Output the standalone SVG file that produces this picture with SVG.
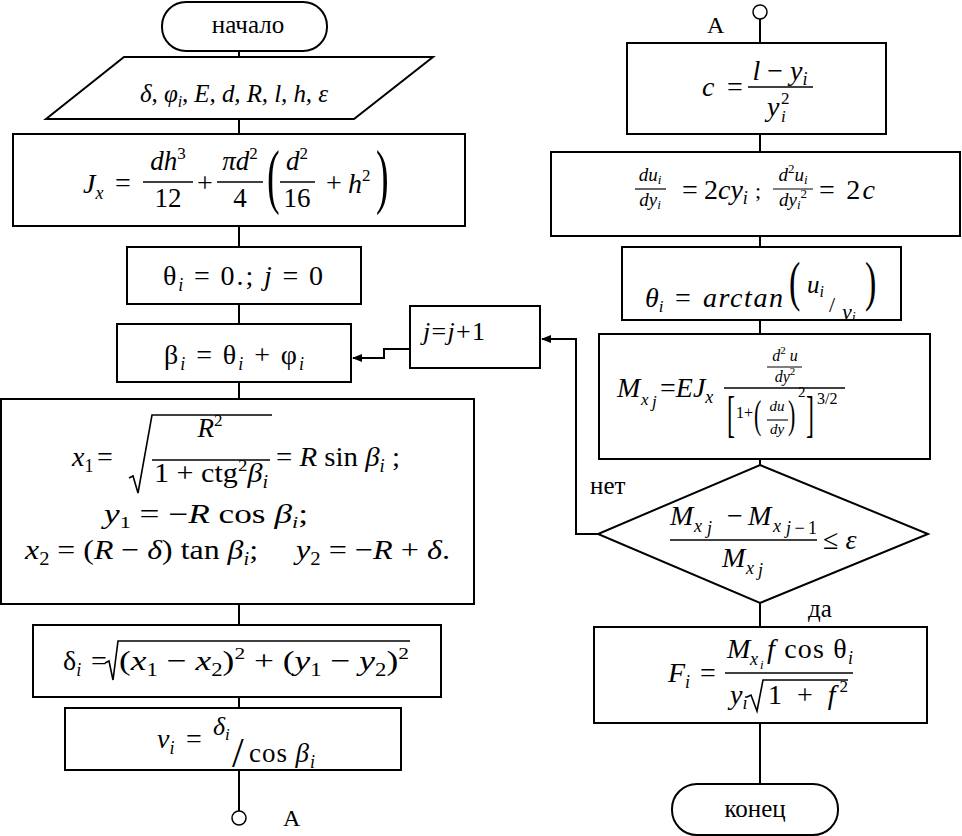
<svg xmlns="http://www.w3.org/2000/svg" width="962" height="836" viewBox="0 0 962 836" font-family="'Liberation Serif', serif">
<style>
text{font-family:'Liberation Serif','Times New Roman',serif;fill:#000}
.i{font-style:italic}
.n{font-style:normal}
.b{fill:#fff;stroke:#000;stroke-width:2}
.c{fill:none;stroke:#000;stroke-width:2}
.fl{stroke:#000;stroke-width:1.6}
.sq{fill:none;stroke:#000;stroke-width:1.6}
</style>
<defs>
<marker id="ar" markerWidth="10" markerHeight="8" refX="9" refY="4" orient="auto" markerUnits="userSpaceOnUse">
<path d="M0,0 L10,4 L0,8 z" fill="#000"/>
</marker>
<clipPath id="clipT"><rect x="623" y="248" width="277" height="71"/></clipPath>
</defs>
<rect width="962" height="836" fill="#fff"/>

<g id="connectors">
<path class="c" d="M239,51 V57 M239,119 V134 M239,226 V247 M239,304 V324 M239,382 V399 M239,604 V625 M239,697 V708 M239,770 V811"/>
<path class="c" d="M760,19 V43 M760,134 V152 M760,236 V247 M760,320 V334 M760,459 V465 M760,603 V627 M760,723 V784"/>
<path class="c" d="M598,534 H576 V339 H542" marker-end="url(#ar)"/>
<path class="c" d="M410,349 H384 V358 H353" marker-end="url(#ar)" stroke-width="2.5"/>
<text x="590" y="494" font-size="25">нет</text>
<text x="808" y="617" font-size="25">да</text>
</g>

<g id="start">
<rect class="b" x="162" y="2" width="165" height="49" rx="24"/>
<text x="248" y="33" font-size="25" text-anchor="middle">начало</text>
</g>

<g id="input">
<polygon class="b" points="124,57 433,57 354,119 46,119"/>
<text x="140" y="102" font-size="25" class="i" textLength="188">δ, φ<tspan font-size="16" dy="5">i</tspan><tspan dy="-5">, E, d, R, l, h, ε</tspan></text>
</g>

<g id="jx">
<rect class="b" x="13" y="134" width="452" height="92"/>
<text x="83" y="193" class="i" font-size="28">J<tspan font-size="18" dy="6">x</tspan></text>
<text x="123" y="192" text-anchor="middle" font-size="28">=</text>
<text x="168" y="170" text-anchor="middle" class="i" font-size="27">dh<tspan class="n" font-size="17" dy="-11">3</tspan></text>
<line class="fl" x1="143" y1="182" x2="193" y2="182"/>
<text x="168" y="207" text-anchor="middle" font-size="27">12</text>
<text x="205" y="192" text-anchor="middle" font-size="28">+</text>
<text x="240" y="170" text-anchor="middle" class="i" font-size="27">πd<tspan class="n" font-size="17" dy="-11">2</tspan></text>
<line class="fl" x1="217" y1="182" x2="263" y2="182"/>
<text x="240" y="207" text-anchor="middle" font-size="27">4</text>
<text transform="translate(267,200) scale(1,1.9)" font-size="38">(</text>
<text x="297" y="170" text-anchor="middle" class="i" font-size="27">d<tspan class="n" font-size="17" dy="-11">2</tspan></text>
<line class="fl" x1="280" y1="182" x2="315" y2="182"/>
<text x="297" y="207" text-anchor="middle" font-size="27">16</text>
<text x="334" y="192" text-anchor="middle" font-size="28">+</text>
<text x="348" y="193" class="i" font-size="28">h<tspan class="n" font-size="17" dy="-12">2</tspan></text>
<text transform="translate(376,200) scale(1,1.9)" font-size="38">)</text>
</g>

<g id="init">
<rect class="b" x="127" y="247" width="234" height="57"/>
<text x="163" y="285" font-size="28" textLength="160">θ<tspan class="i" font-size="18" dy="6">i</tspan><tspan dy="-6"> = 0.; </tspan><tspan class="i">j</tspan> = 0</text>
</g>

<g id="beta">
<rect class="b" x="117" y="324" width="234" height="58"/>
<text x="164" y="364" font-size="28" textLength="140">β<tspan class="i" font-size="18" dy="6">i</tspan><tspan dy="-6"> = θ</tspan><tspan class="i" font-size="18" dy="6">i</tspan><tspan dy="-6"> + φ</tspan><tspan class="i" font-size="18" dy="6">i</tspan></text>
</g>

<g id="jinc">
<rect class="b" x="410" y="306" width="130" height="62"/>
<text x="423" y="340" font-size="26" textLength="62"><tspan class="i">j</tspan>=<tspan class="i">j</tspan>+1</text>
</g>

<g id="coords">
<rect class="b" x="1" y="399" width="473" height="205"/>
<text x="72" y="466" class="i" font-size="28">x<tspan class="n" font-size="18" dy="6">1</tspan></text>
<text x="105" y="466" text-anchor="middle" font-size="28">=</text>
<path class="sq" d="M129,478 L133,476 L138,493 L152,415 H272"/>
<text x="210" y="437" text-anchor="middle" class="i" font-size="27">R<tspan class="n" font-size="17" dy="-11">2</tspan></text>
<line class="fl" x1="152" y1="460" x2="270" y2="460"/>
<text x="154" y="482" font-size="27" textLength="114" lengthAdjust="spacingAndGlyphs">1 + ctg<tspan font-size="17" dy="-11">2</tspan><tspan class="i" dy="11">β</tspan><tspan class="i" font-size="18" dy="6">i</tspan></text>
<text x="276" y="466" font-size="28" textLength="124" lengthAdjust="spacingAndGlyphs">= <tspan class="i">R</tspan> sin <tspan class="i">β</tspan><tspan class="i" font-size="18" dy="6">i</tspan><tspan dy="-6"> ;</tspan></text>
<text x="104" y="523" font-size="27" textLength="204" lengthAdjust="spacingAndGlyphs"><tspan class="i">y</tspan><tspan font-size="17" dy="5">1</tspan><tspan dy="-5"> = −</tspan><tspan class="i">R</tspan> cos <tspan class="i">β</tspan><tspan class="i" font-size="17" dy="5">i</tspan><tspan dy="-5">;</tspan></text>
<text x="25" y="559" font-size="28" textLength="233" lengthAdjust="spacingAndGlyphs"><tspan class="i">x</tspan><tspan font-size="18" dy="6">2</tspan><tspan dy="-6"> = (</tspan><tspan class="i">R</tspan> − <tspan class="i">δ</tspan>) tan <tspan class="i">β</tspan><tspan class="i" font-size="18" dy="6">i</tspan><tspan dy="-6">;</tspan></text>
<text x="296" y="559" font-size="28" textLength="154" lengthAdjust="spacingAndGlyphs"><tspan class="i">y</tspan><tspan font-size="18" dy="6">2</tspan><tspan dy="-6"> = −</tspan><tspan class="i">R</tspan> + <tspan class="i">δ</tspan>.</text>
</g>

<g id="delta">
<rect class="b" x="33" y="625" width="408" height="72"/>
<text x="63" y="670" font-size="28">δ<tspan class="i" font-size="18" dy="6">i</tspan></text>
<text x="99" y="670" text-anchor="middle" font-size="28">=</text>
<path class="sq" d="M105,663 L109,661 L113,680 L118,641 H410"/>
<text x="119" y="670" font-size="28" textLength="290" lengthAdjust="spacingAndGlyphs">(<tspan class="i">x</tspan><tspan font-size="18" dy="6">1</tspan><tspan dy="-6"> − </tspan><tspan class="i">x</tspan><tspan font-size="18" dy="6">2</tspan><tspan dy="-6">)</tspan><tspan font-size="17" dy="-11">2</tspan><tspan dy="11"> + (</tspan><tspan class="i">y</tspan><tspan font-size="18" dy="6">1</tspan><tspan dy="-6"> − </tspan><tspan class="i">y</tspan><tspan font-size="18" dy="6">2</tspan><tspan dy="-6">)</tspan><tspan font-size="17" dy="-11">2</tspan></text>
</g>

<g id="v">
<rect class="b" x="65" y="708" width="336" height="62"/>
<text x="157" y="748" class="i" font-size="28">v<tspan font-size="18" dy="6">i</tspan></text>
<text x="194" y="748" text-anchor="middle" font-size="28">=</text>
<text x="213" y="735" class="i" font-size="26">δ<tspan font-size="17" dy="5">i</tspan></text>
<text x="232" y="767" font-size="42">/</text>
<text x="249" y="762" font-size="27" textLength="66">cos <tspan class="i">β</tspan><tspan class="i" font-size="18" dy="6">i</tspan></text>
</g>

<g id="connA1">
<circle cx="239" cy="818" r="7" fill="#fff" stroke="#000" stroke-width="1.5"/>
<text x="283" y="826" font-size="24">A</text>
</g>

<g id="connA2">
<circle cx="760" cy="12" r="7" fill="#fff" stroke="#000" stroke-width="1.5"/>
<text x="707" y="33" font-size="24">A</text>
</g>

<g id="cbox">
<rect class="b" x="627" y="43" width="259" height="91"/>
<text x="702" y="96" class="i" font-size="28">c</text>
<text x="735" y="96" text-anchor="middle" font-size="28">=</text>
<text x="780" y="80" text-anchor="middle" font-size="28"><tspan class="i">l</tspan> − <tspan class="i">y</tspan><tspan class="i" font-size="18" dy="5">i</tspan></text>
<line class="fl" x1="748" y1="87" x2="813" y2="87"/>
<text x="767" y="116" class="i" font-size="28">y</text>
<text x="781" y="104" font-size="17">2</text>
<text x="781" y="122" class="i" font-size="17">i</text>
</g>

<g id="deriv">
<rect class="b" x="551" y="152" width="409" height="84"/>
<text x="650" y="181" text-anchor="middle" class="i" font-size="19">du<tspan font-size="13" dy="3">i</tspan></text>
<line x1="635" y1="189" x2="666" y2="189" stroke="#000" stroke-width="1.2"/>
<text x="650" y="206" text-anchor="middle" class="i" font-size="19">dy<tspan font-size="13" dy="3">i</tspan></text>
<text x="690" y="199" text-anchor="middle" font-size="28">=</text>
<text x="704" y="199" font-size="28">2<tspan class="i">cy</tspan><tspan class="i" font-size="18" dy="5">i</tspan></text>
<text x="755" y="198" font-size="22">;</text>
<text x="793" y="181" text-anchor="middle" class="i" font-size="19">d<tspan class="n" font-size="13" dy="-8">2</tspan><tspan dy="8">u</tspan><tspan font-size="13" dy="3">i</tspan></text>
<line x1="773" y1="189" x2="813" y2="189" stroke="#000" stroke-width="1.2"/>
<text x="793" y="206" text-anchor="middle" class="i" font-size="19">dy<tspan font-size="13" dy="3">i</tspan><tspan class="n" font-size="13" dy="-11">2</tspan></text>
<text x="819" y="199" font-size="28" textLength="56">= 2<tspan class="i">c</tspan></text>
</g>

<g id="theta">
<rect class="b" x="622" y="247" width="279" height="73"/>
<text x="645" y="307" class="i" font-size="28">θ<tspan font-size="17" dy="5">i</tspan></text>
<text x="683" y="307" text-anchor="middle" font-size="28">=</text>
<text x="703" y="307" class="i" font-size="28" textLength="80">arctan</text>
<text transform="translate(789,300) scale(1,1.6)" font-size="34">(</text>
<text x="807" y="293" class="i" font-size="25">u<tspan font-size="16" dy="4">i</tspan></text>
<text x="829" y="312" font-size="22">/</text>
<g clip-path="url(#clipT)">
<text x="842" y="319" class="i" font-size="22">y<tspan font-size="14" dy="3">i</tspan></text>
</g>
<text transform="translate(865,300) scale(1,1.6)" font-size="34">)</text>
</g>

<g id="moment">
<rect class="b" x="599" y="334" width="331" height="125"/>
<text x="617" y="397" class="i" font-size="28">M</text>
<text x="641" y="405" class="i" font-size="17">x</text>
<text x="652" y="407" class="i" font-size="17">j</text>
<text x="660" y="397" font-size="28">=<tspan class="i">EJ</tspan><tspan class="i" font-size="18" dy="6">x</tspan></text>
<line class="fl" x1="724" y1="388" x2="845" y2="388"/>
<text x="785" y="361" text-anchor="middle" class="i" font-size="16">d<tspan class="n" font-size="11" dy="-7">2</tspan><tspan dy="7"> u</tspan></text>
<line x1="767" y1="367" x2="802" y2="367" stroke="#000" stroke-width="1.2"/>
<text x="785" y="382" text-anchor="middle" class="i" font-size="16">dy<tspan class="n" font-size="11" dy="-7">2</tspan></text>
<text transform="translate(727,431) scale(1,2.1)" font-size="24">[</text>
<text x="736" y="418" font-size="16">1+</text>
<text transform="translate(754,428) scale(1,1.85)" font-size="22">(</text>
<text x="777" y="411" text-anchor="middle" class="i" font-size="15">du</text>
<line x1="767" y1="420" x2="788" y2="420" stroke="#000" stroke-width="1.1"/>
<text x="777" y="434" text-anchor="middle" class="i" font-size="15">dy</text>
<text transform="translate(788,428) scale(1,1.85)" font-size="22">)</text>
<text x="798" y="397" font-size="15">2</text>
<text transform="translate(806,431) scale(1,2.1)" font-size="24">]</text>
<text x="817" y="404" font-size="16">3/2</text>
</g>

<g id="check">
<polygon class="b" points="760,465 928,534 760,603 598,534"/>
<text x="670" y="525" class="i" font-size="28">M</text>
<text x="694" y="532" class="i" font-size="18">x</text>
<text x="707" y="534" class="i" font-size="18">j</text>
<text x="735" y="525" text-anchor="middle" font-size="28">−</text>
<text x="748" y="525" class="i" font-size="28">M</text>
<text x="773" y="532" class="i" font-size="18">x</text>
<text x="786" y="534" font-size="18" textLength="31"><tspan class="i">j</tspan>−1</text>
<line class="fl" x1="670" y1="540" x2="817" y2="540"/>
<text x="722" y="567" class="i" font-size="28">M</text>
<text x="746" y="574" class="i" font-size="18">x</text>
<text x="758" y="576" class="i" font-size="18">j</text>
<text x="823" y="549" font-size="28">≤ <tspan class="i">ε</tspan></text>
</g>

<g id="force">
<rect class="b" x="594" y="627" width="333" height="96"/>
<text x="668" y="682" class="i" font-size="28">F<tspan font-size="18" dy="6">i</tspan></text>
<text x="708" y="682" text-anchor="middle" font-size="28">=</text>
<text x="727" y="658" class="i" font-size="28">M</text>
<text x="750" y="665" class="i" font-size="18">x</text>
<text x="760" y="669" class="i" font-size="13">i</text>
<text x="767" y="658" font-size="28" textLength="86"><tspan class="i">f</tspan> cos θ<tspan class="i" font-size="18" dy="6">i</tspan></text>
<line class="fl" x1="725" y1="673" x2="853" y2="673"/>
<text x="730" y="704" class="i" font-size="28">y<tspan font-size="18" dy="5">i</tspan></text>
<path class="sq" d="M747,697 L751,695 L757,711 L763,680 H848"/>
<text x="768" y="704" font-size="28" textLength="80">1 + <tspan class="i">f</tspan><tspan font-size="17" dy="-12">2</tspan></text>
</g>

<g id="end">
<rect class="b" x="672" y="784" width="166" height="51" rx="25"/>
<text x="755" y="817" font-size="25" text-anchor="middle">конец</text>
</g>
</svg>
